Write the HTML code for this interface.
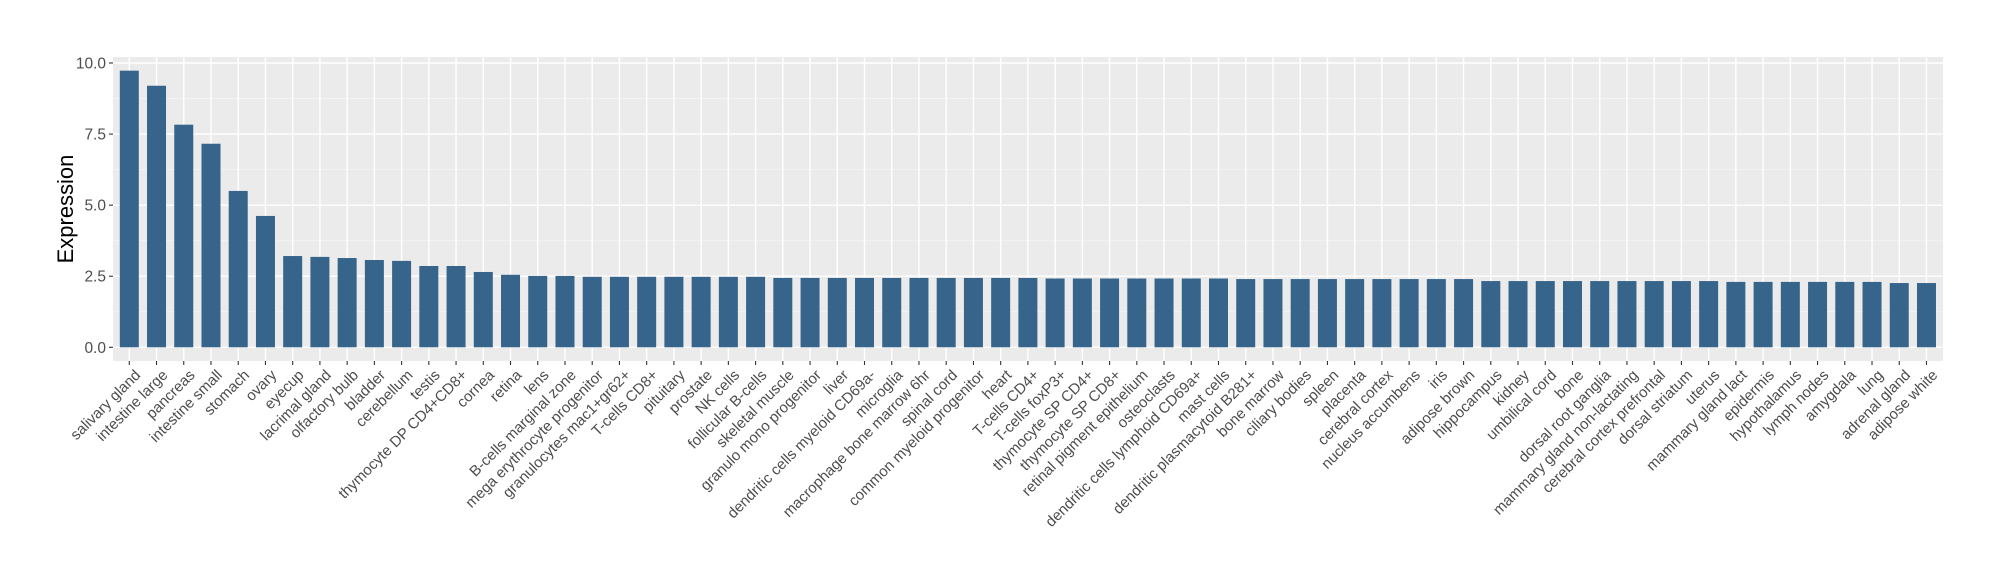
<!DOCTYPE html>
<html><head><meta charset="utf-8"><style>
body{margin:0;background:#fff}
svg{display:block;font-family:"Liberation Sans",Arial,sans-serif}
</style></head><body>
<svg id="chart" width="2000" height="580" viewBox="0 0 2000 580" xmlns="http://www.w3.org/2000/svg">
<rect x="113" y="57" width="1830" height="304" fill="#EBEBEB"/>
<g id="grid"></g>
<g id="bars"></g>
<g id="yaxis"></g>
<g id="xaxis"></g>
<text transform="translate(73,209) rotate(-90)" text-anchor="middle" font-size="22" fill="#000">Expression</text>
</svg>
<script>
const categories = ["salivary gland","intestine large","pancreas","intestine small","stomach","ovary","eyecup","lacrimal gland","olfactory bulb","bladder","cerebellum","testis","thymocyte DP CD4+CD8+","cornea","retina","lens","B-cells marginal zone","mega erythrocyte progenitor","granulocytes mac1+gr62+","T-cells CD8+","pituitary","prostate","NK cells","follicular B-cells","skeletal muscle","granulo mono progenitor","liver","dendritic cells myeloid CD69a-","microglia","macrophage bone marrow 6hr","spinal cord","common myeloid progenitor","heart","T-cells CD4+","T-cells foxP3+","thymocyte SP CD4+","thymocyte SP CD8+","retinal pigment epithelium","osteoclasts","dendritic cells lymphoid CD69a+","mast cells","dendritic plasmacytoid B281+","bone marrow","ciliary bodies","spleen","placenta","cerebral cortex","nucleus accumbens","iris","adipose brown","hippocampus","kidney","umbilical cord","bone","dorsal root ganglia","mammary gland non-lactating","cerebral cortex prefrontal","dorsal striatum","uterus","mammary gland  lact","epidermis","hypothalamus","lymph nodes","amygdala","lung","adrenal gland","adipose white"];
const values = [9.73,9.2,7.83,7.16,5.5,4.62,3.21,3.18,3.14,3.07,3.04,2.86,2.86,2.65,2.55,2.51,2.51,2.48,2.48,2.48,2.48,2.48,2.48,2.48,2.44,2.44,2.44,2.44,2.44,2.44,2.44,2.44,2.44,2.44,2.42,2.42,2.42,2.42,2.42,2.42,2.42,2.4,2.4,2.4,2.4,2.4,2.4,2.4,2.4,2.4,2.33,2.33,2.33,2.33,2.33,2.33,2.33,2.33,2.33,2.3,2.3,2.3,2.3,2.3,2.3,2.26,2.26];
const yTicks = [0,2.5,5,7.5,10];
const yTickLabels = ["0.0","2.5","5.0","7.5","10.0"];

const NS="http://www.w3.org/2000/svg";
const x0=129.3, step=27.23, barW=19;
const xPos=i=>x0+i*step;
const yPos=v=>347.3-v*28.43;
function mk(tag,attrs,parent){const e=document.createElementNS(NS,tag);for(const k in attrs)e.setAttribute(k,attrs[k]);parent.appendChild(e);return e;}
const grid=document.getElementById('grid'),bars=document.getElementById('bars'),ya=document.getElementById('yaxis'),xa=document.getElementById('xaxis');
// minor grid
for(let k=0;k<yTicks.length-1;k++){
  const m=(yTicks[k]+yTicks[k+1])/2;
  const l=mk('line',{x1:113,x2:1943,y1:yPos(m),y2:yPos(m),stroke:'#F5F5F5','stroke-width':0.8},grid);
  
  
}
yTicks.forEach((t,k)=>{
  const y=yPos(t);
  const l=mk('line',{x1:113,x2:1943,y1:y,y2:y,stroke:'#fff','stroke-width':1.4},grid);
  
  
  const tk=mk('line',{x1:109,x2:113,y1:y,y2:y,stroke:'#333','stroke-width':1.1},ya);
  
  
  const tx=mk('text',{x:106,y:y+5.5,'text-anchor':'end','font-size':15.5,fill:'#4D4D4D'},ya);
  tx.textContent=yTickLabels[k];
  
  
});
categories.forEach((c,i)=>{
  const x=xPos(i);
  const g=mk('line',{x1:x,x2:x,y1:57,y2:361,stroke:'#fff','stroke-width':1.4},grid);
  
  
  const v=values[i];
  const r=mk('rect',{x:x-barW/2,y:yPos(v),width:barW,height:yPos(0)-yPos(v),fill:'#36648B'},bars);
  
  
  const tk=mk('line',{x1:x,x2:x,y1:361,y2:365,stroke:'#333','stroke-width':1.1},xa);
  
  
  const t=mk('text',{transform:`translate(${x+4},${368}) rotate(-45)`,'text-anchor':'end',dy:'0.75em','font-size':15,fill:'#4D4D4D'},xa);
  t.textContent=c;
  
  
});
</script>
</body></html>
